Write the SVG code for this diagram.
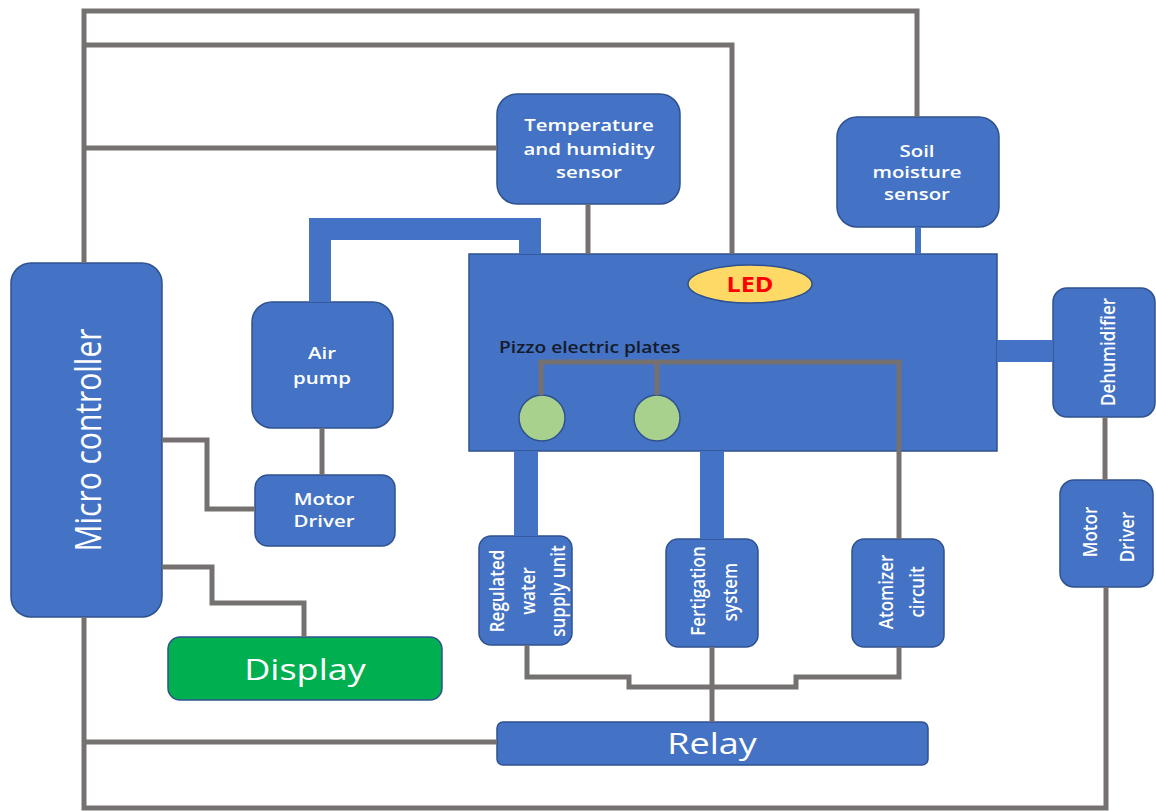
<svg xmlns="http://www.w3.org/2000/svg" width="1156" height="811" viewBox="0 0 1156 811">
<style>
.box{fill:#4472C4;stroke:#2F528F;stroke-width:1.5}
.wire{fill:none;stroke:#767171;stroke-width:5;stroke-linejoin:miter}
.tube{fill:none;stroke:#4472C4;stroke-width:22;stroke-linejoin:miter}
.lbl{font-family:"Open Sans","Liberation Sans",sans-serif;fill:#fff;font-weight:600;font-size:17px;text-anchor:middle}
.big{font-family:"Open Sans","Liberation Sans",sans-serif;fill:#fff;font-weight:400;text-anchor:middle}
.rot{dominant-baseline:central}
</style>
<rect width="1156" height="811" fill="#fff"/>
<g id="microcontroller">
<rect class="box" x="11" y="263" width="151" height="354" rx="20"/>
<text class="big rot" font-size="30" transform="translate(87,440) scale(1.2,1) rotate(-90)">Micro controller</text>
</g>
<g id="temp-humidity-sensor">
<rect class="box" x="497" y="94" width="183" height="110" rx="20"/>
<g transform="translate(589,0) scale(1.2,1)"><text class="lbl" x="0" y="131">Temperature</text><text class="lbl" x="0" y="155">and humidity</text><text class="lbl" x="0" y="178">sensor</text></g>
</g>
<g id="soil-moisture-sensor">
<rect class="box" x="837" y="117" width="162" height="110" rx="20"/>
<g transform="translate(917,0) scale(1.2,1)"><text class="lbl" x="0" y="157">Soil</text><text class="lbl" x="0" y="178">moisture</text><text class="lbl" x="0" y="200">sensor</text></g>
</g>
<g id="chamber">
<rect x="469" y="254" width="528" height="197" fill="#4472C4" stroke="#2F528F" stroke-width="1.5"/>
<ellipse cx="750" cy="284" rx="62" ry="19" fill="#FFD966" stroke="#2F528F" stroke-width="1.5"/>
<text transform="translate(750,0) scale(1.2,1)" x="0" y="292" font-family="Open Sans, Liberation Sans, sans-serif" font-weight="700" font-size="21" fill="#FF0000" text-anchor="middle">LED</text>
<text transform="translate(499,0) scale(1.2,1)" x="0" y="353" font-family="Open Sans, Liberation Sans, sans-serif" font-weight="600" font-size="16" fill="#141b2b">Pizzo electric plates</text>
<circle cx="542" cy="418" r="23" fill="#A9D18E" stroke="#2F528F" stroke-width="1.5"/>
<circle cx="657" cy="418" r="23" fill="#A9D18E" stroke="#2F528F" stroke-width="1.5"/>
</g>
<g id="air-pump">
<rect class="box" x="252" y="302" width="141" height="126" rx="20"/>
<g transform="translate(322,0) scale(1.2,1)"><text class="lbl" x="0" y="359">Air</text><text class="lbl" x="0" y="384">pump</text></g>
</g>
<g id="motor-driver-left">
<rect class="box" x="255" y="475" width="140" height="71" rx="13"/>
<g transform="translate(324,0) scale(1.2,1)"><text class="lbl" x="0" y="505">Motor</text><text class="lbl" x="0" y="527">Driver</text></g>
</g>
<g id="display">
<rect x="168" y="637" width="274" height="63" rx="12" fill="#00B050" stroke="#2F528F" stroke-width="1.5"/>
<text class="big" font-size="30" transform="translate(305,0) scale(1.2,1)" x="0" y="680">Display</text>
</g>
<g id="regulated-water-supply">
<rect class="box" x="479" y="536" width="93" height="109" rx="12"/>
<text class="lbl rot" font-size="16" transform="translate(496,591) scale(1.2,1) rotate(-90)">Regulated</text>
<text class="lbl rot" font-size="16" transform="translate(527,591) scale(1.2,1) rotate(-90)">water</text>
<text class="lbl rot" font-size="16" transform="translate(557,591) scale(1.2,1) rotate(-90)">supply unit</text>
</g>
<g id="fertigation-system">
<rect class="box" x="666" y="539" width="92" height="108" rx="12"/>
<text class="lbl rot" font-size="16" transform="translate(697,591) scale(1.2,1) rotate(-90)">Fertigation</text>
<text class="lbl rot" font-size="16" transform="translate(729,592) scale(1.2,1) rotate(-90)">system</text>
</g>
<g id="atomizer-circuit">
<rect class="box" x="852" y="539" width="92" height="108" rx="12"/>
<text class="lbl rot" font-size="16" transform="translate(885,592) scale(1.2,1) rotate(-90)">Atomizer</text>
<text class="lbl rot" font-size="16" transform="translate(916,592) scale(1.2,1) rotate(-90)">circuit</text>
</g>
<g id="dehumidifier">
<rect class="box" x="1053" y="288" width="102" height="129" rx="14"/>
<text class="lbl rot" font-size="17" transform="translate(1107,352) scale(1.2,1) rotate(-90)">Dehumidifier</text>
</g>
<g id="motor-driver-right">
<rect class="box" x="1060" y="480" width="93" height="107" rx="14"/>
<text class="lbl rot" font-size="19" transform="translate(1089,532) scale(1.2,1) rotate(-90)">Motor</text>
<text class="lbl rot" font-size="19" transform="translate(1126,537) scale(1.2,1) rotate(-90)">Driver</text>
</g>
<g id="relay">
<rect class="box" x="497" y="722" width="431" height="43" rx="6"/>
<text class="big" font-size="30" transform="translate(712,0) scale(1.2,1)" x="0" y="754">Relay</text>
</g>
<g id="connectors">
<path class="tube" d="M320,302 V229 H530 V254"/>
<rect x="514" y="451" width="24" height="85" fill="#4472C4"/>
<rect x="700" y="451" width="24" height="88" fill="#4472C4"/>
<rect x="997" y="340" width="56" height="22" fill="#4472C4"/>
<rect x="915" y="227" width="6" height="27" fill="#4472C4"/>
<path class="wire" d="M84,263 V11 H917 V117"/>
<path class="wire" d="M84,45 H732 V254"/>
<path class="wire" d="M84,148 H497"/>
<path class="wire" d="M588,204 V254"/>
<path class="wire" d="M541,395 V362 H899 V539"/>
<path class="wire" d="M657,362 V395"/>
<path class="wire" d="M162,440 H207 V509 H255"/>
<path class="wire" d="M322,428 V475"/>
<path class="wire" d="M162,567 H212 V603 H304 V637"/>
<path class="wire" d="M84,617 V808 H1106 V587"/>
<path class="wire" d="M84,742 H497"/>
<path class="wire" d="M1105,417 V480"/>
<path class="wire" d="M527,645 V677 H629 V687 H796 V677 H899 V647"/>
<path class="wire" d="M712,647 V722"/>
</g>
</svg>
